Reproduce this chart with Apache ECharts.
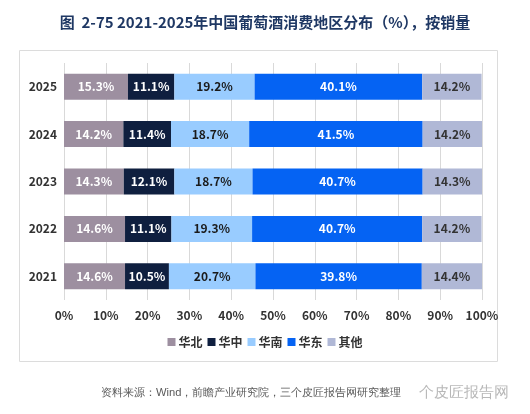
<!DOCTYPE html>
<html>
<head>
<meta charset="utf-8">
<script src="https://cdn.jsdelivr.net/npm/echarts@6/dist/echarts.min.js"></script>
<style>
  html, body { margin: 0; padding: 0; background: #fff; }
  #chart { width: 530px; height: 414px; }
</style>
</head>
<body>
<div id="chart"></div>
<script>
const years = ['2021', '2022', '2023', '2024', '2025']
const regions = ['华北', '华中', '华南', '华东', '其他']
const huabei = [14.6, 14.6, 14.3, 14.2, 15.3]
const huazhong = [10.5, 11.1, 12.1, 11.4, 11.1]
const huanan = [20.7, 19.3, 18.7, 18.7, 19.2]
const huadong = [39.8, 40.7, 40.7, 41.5, 40.1]
const qita = [14.4, 14.2, 14.3, 14.2, 14.2]

const seriesData = [huabei, huazhong, huanan, huadong, qita]
const colors = ['#9d8fa0', '#0f1f3f', '#99ccff', '#0563f3', '#b0b8d6']
const labelColors = ['#ffffff', '#ffffff', '#1a1a1a', '#ffffff', '#333333']

const chart = echarts.init(document.getElementById('chart'))

const option = {
  animation: false,
  textStyle: { fontFamily: '"Noto Sans CJK SC", "Noto Sans", sans-serif' },
  title: {
    text: '图  2-75 2021-2025年中国葡萄酒消费地区分布（%），按销量',
    left: 'center',
    top: 10,
    textStyle: {
      color: '#1f3864',
      fontSize: 15,
      fontWeight: 'bold',
    },
  },
  graphic: [
    {
      type: 'rect',
      shape: { x: 19.5, y: 50.5, width: 478, height: 311 },
      style: { fill: 'none', stroke: '#dcdcdc', lineWidth: 1 },
      z: -1,
    },
    {
      type: 'text',
      left: 101,
      top: 387,
      style: {
        text: '资料来源：Wind，前瞻产业研究院，三个皮匠报告网研究整理',
        fill: '#595959',
        fontSize: 11.2,
      },
    },
    {
      type: 'text',
      left: 419,
      top: 385,
      style: {
        text: '个皮匠报告网',
        fill: '#b8b8b8',
        fontSize: 14.5,
      },
    },
  ],
  legend: {
    data: regions,
    bottom: 61,
    left: 'center',
    itemWidth: 8,
    itemHeight: 8,
    itemGap: 5,
    icon: 'rect',
    textStyle: { color: '#333', fontSize: 12, fontWeight: 'bold', padding: [0, 0, 0, -2] },
  },
  grid: {
    left: 64,
    right: 48,
    top: 63,
    height: 237,
  },
  xAxis: {
    type: 'value',
    min: 0,
    max: 100,
    interval: 10,
    axisLabel: {
      formatter: '{value}%',
      color: '#333',
      fontSize: 12,
      fontWeight: 'bold',
      margin: 9,
    },
    axisLine: { show: false },
    axisTick: { show: false },
    splitLine: { lineStyle: { color: '#d9d9d9' } },
  },
  yAxis: {
    type: 'category',
    data: years,
    axisLabel: { color: '#333', fontSize: 12, fontWeight: 'bold', margin: 7 },
    axisLine: { show: false },
    axisTick: { show: false },
  },
  series: regions.map((name, i) => ({
    name: name,
    type: 'bar',
    stack: 'total',
    barWidth: 26,
    data: seriesData[i],
    itemStyle: { color: colors[i] },
    label: {
      show: true,
      position: 'inside',
      formatter: (p) => p.value.toFixed(1) + '%',
      color: labelColors[i],
      fontSize: 12,
      fontWeight: 'bold',
    },
  })),
}

chart.setOption(option)
</script>
</body>
</html>
